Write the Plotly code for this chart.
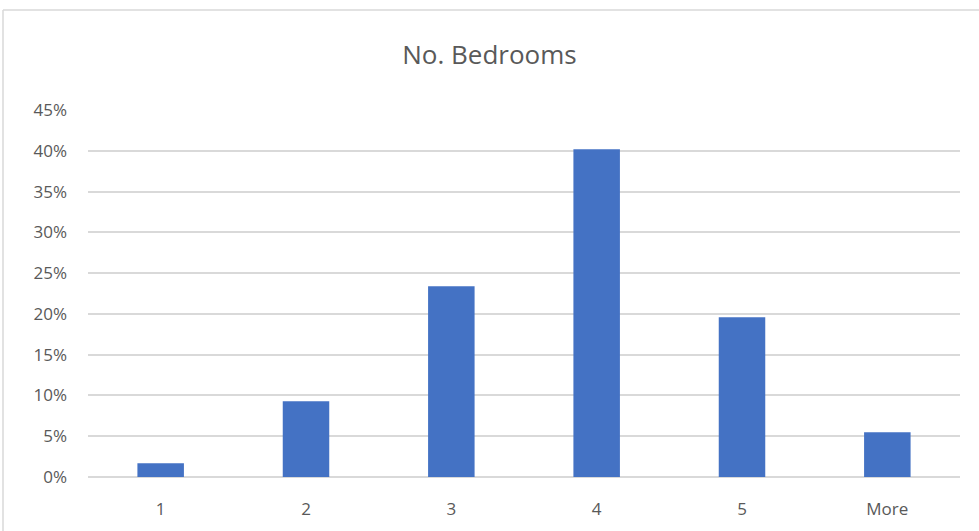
import plotly.graph_objects as go

categories = ["1", "2", "3", "4", "5", "More"]
values = [0.017, 0.093, 0.234, 0.402, 0.196, 0.055]
tick_vals = [0, 0.05, 0.10, 0.15, 0.20, 0.25, 0.30, 0.35, 0.40, 0.45]
tick_text = ["0%", "5%", "10%", "15%", "20%", "25%", "30%", "35%", "40%", "45%"]

W, H = 979, 531
OFF = 0  # page body margin removed via post_script
L, T = 88 - OFF, 110 - OFF
pw, ph = 872, 367
R, B = W - L - pw, H - T - ph

def px(x_screen):
    return (x_screen - OFF - L) / pw

def py(y_screen):
    return (T + ph - (y_screen - OFF)) / ph

fig = go.Figure(go.Bar(x=categories, y=values, marker_color="#4472C4",
                       marker_line_width=0))

fig.update_layout(
    width=W, height=H,
    margin=dict(l=L, r=R, t=T, b=B),
    plot_bgcolor="white", paper_bgcolor="white",
    bargap=0.68,
    showlegend=False,
    font=dict(family="Open Sans, Segoe UI, sans-serif", color="#595959", size=17),
    title=dict(text="No. Bedrooms", x=0.5, xanchor="center", y=1 - (55 - OFF) / H, yanchor="middle",
               font=dict(size=26, color="#595959")),
    shapes=[
        dict(type="line", xref="paper", yref="paper", x0=px(3), x1=px(990), y0=py(10), y1=py(10),
             line=dict(color="#d9d9d9", width=1.5)),
        dict(type="line", xref="paper", yref="paper", x0=px(3), x1=px(3), y0=py(10), y1=py(545),
             line=dict(color="#d9d9d9", width=1.5)),
    ],
)
fig.update_xaxes(showgrid=False, showline=False, ticks="", ticklabelstandoff=20,
                 tickfont=dict(size=17, color="#595959"))
fig.update_yaxes(range=[0, 0.45], tickvals=tick_vals, ticktext=tick_text,
                 showgrid=True, gridcolor="#d9d9d9", gridwidth=1.5,
                 zeroline=True, zerolinecolor="#d9d9d9", zerolinewidth=1.5,
                 showline=False, ticks="", ticklabelstandoff=20,
                 tickfont=dict(size=17, color="#595959"))

fig.write_html("out.html", config={"displayModeBar": False},
               post_script="document.body.style.margin='0';document.body.style.overflow='hidden';")
